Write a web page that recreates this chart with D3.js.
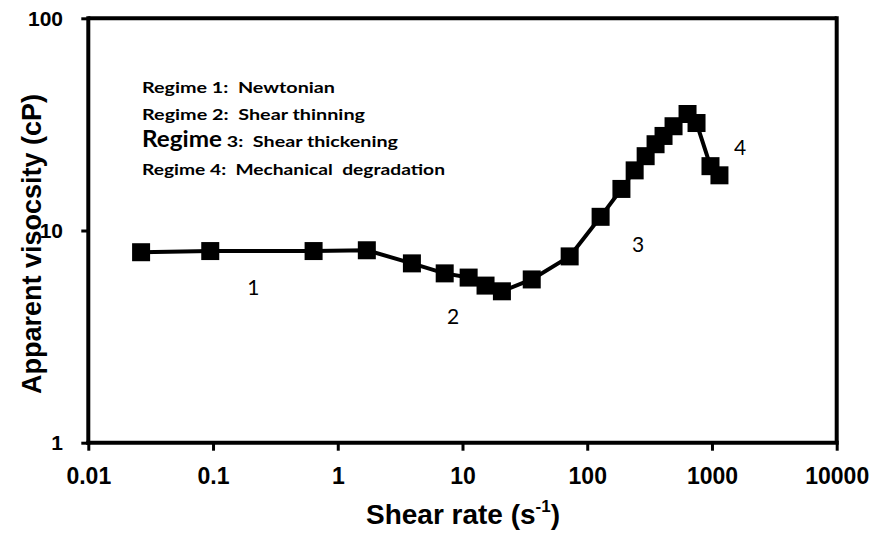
<!DOCTYPE html>
<html>
<head>
<meta charset="utf-8">
<script src="https://cdn.jsdelivr.net/npm/d3@7"></script>
<style>
  html, body { margin: 0; padding: 0; background: #fff; }
  svg { display: block; }
</style>
</head>
<body>
<svg id="chart" width="878" height="533"></svg>
<script>
// ---- data ----
const shearRate = [0.0265, 0.095, 0.64, 1.71, 3.93, 7.2, 11.2, 15.3, 20.7, 35.9, 72.3, 128, 188, 240, 294, 353, 409, 492, 637, 752, 973, 1148];
const viscosity = [7.9, 8.0, 8.0, 8.07, 7.0, 6.28, 6.0, 5.5, 5.17, 5.88, 7.55, 11.6, 15.7, 19.2, 22.4, 25.5, 27.9, 31.0, 35.4, 32.1, 20.1, 18.2];
const xTicks = [0.01, 0.1, 1, 10, 100, 1000, 10000];
const xTickLabels = ["0.01", "0.1", "1", "10", "100", "1000", "10000"];
const yTicks = [1, 10, 100];
const yTickLabels = ["1", "10", "100"];
const regimeLines = [
  ["Regime 1:  Newtonian"],
  ["Regime 2:  Shear thinning"],
  ["Regime", " 3:  Shear thickening"],
  ["Regime 4:  Mechanical  degradation"]
];
const regimeNumbers = ["1", "2", "3", "4"];
const regimeNumberPos = [[0.21, 5.42], [8.4, 3.95], [256, 8.55], [1683, 24.7]];
const xTitle = "Shear rate (s";
const yTitle = "Apparent visocsity (cP)";

// ---- layout ----
const svg = d3.select("#chart");
const x = d3.scaleLog().domain([0.01, 10000]).range([88.3, 836.7]);
const y = d3.scaleLog().domain([1, 100]).range([442.7, 18.3]);
const AX = "'Liberation Sans', Arial, sans-serif";
const CAL = "Lato, 'Open Sans', sans-serif";

// frame top & right
svg.append("line")
  .attr("x1", x(0.01)).attr("x2", x(10000)).attr("y1", y(100)).attr("y2", y(100))
  .attr("stroke", "#000").attr("stroke-width", 4);
svg.append("line")
  .attr("x1", x(10000)).attr("x2", x(10000)).attr("y1", y(100) - 2).attr("y2", y(1))
  .attr("stroke", "#000").attr("stroke-width", 4);

// x axis
const gx = svg.append("g").attr("transform", `translate(0,${y(1)})`)
  .call(d3.axisBottom(x).tickValues(xTicks).tickSizeInner(8).tickSizeOuter(0)
    .tickFormat((d, i) => xTickLabels[i]));
gx.select(".domain").attr("stroke-width", 4).attr("d", `M${x(0.01) - 2},0H${x(10000) + 2}`);
gx.selectAll(".tick line").attr("stroke-width", 3);
gx.selectAll(".tick text").attr("y", 41.3).attr("dy", 0)
  .attr("font-family", AX).attr("font-weight", "bold").attr("font-size", 23).attr("fill", "#000");

// y axis
const gy = svg.append("g").attr("transform", `translate(${x(0.01)},0)`)
  .call(d3.axisLeft(y).tickValues(yTicks).tickSizeInner(7).tickSizeOuter(0)
    .tickFormat((d, i) => yTickLabels[i]));
gy.select(".domain").attr("stroke-width", 4).attr("d", `M0,${y(100) - 2}V${y(1) + 2}`);
gy.selectAll(".tick line").attr("stroke-width", 3);
gy.selectAll(".tick text").attr("x", -25.3).attr("dy", "0.34em")
  .attr("font-family", AX).attr("font-weight", "bold").attr("font-size", 21).attr("fill", "#000");

// axis titles
const xt = svg.append("text").attr("x", 463).attr("y", 524).attr("text-anchor", "middle")
  .attr("font-family", AX).attr("font-weight", "bold").attr("font-size", 28).attr("fill", "#000");
xt.append("tspan").text(xTitle);
xt.append("tspan").attr("font-size", 17).attr("dy", -12).text("-1");
xt.append("tspan").attr("dy", 12).text(")");

svg.append("text").attr("transform", "translate(41,244) rotate(-90)").attr("text-anchor", "middle")
  .attr("font-family", AX).attr("font-weight", "bold").attr("font-size", 27).attr("fill", "#000")
  .text(yTitle);

// series line and markers
const pts = shearRate.map((d, i) => [d, viscosity[i]]);
svg.append("path").datum(pts)
  .attr("fill", "none").attr("stroke", "#000").attr("stroke-width", 4).attr("stroke-linejoin", "round")
  .attr("d", d3.line().x(d => x(d[0])).y(d => y(d[1])));
const ms = 18;
svg.append("g").selectAll("rect").data(pts).join("rect")
  .attr("x", d => x(d[0]) - ms / 2).attr("y", d => y(d[1]) - ms / 2)
  .attr("width", ms).attr("height", ms).attr("fill", "#000");

// regime description text
const baselines = [93, 120, 147, 175];
const lineWidths = [193, 223, null, 303];
regimeLines.forEach((parts, i) => {
  const t = svg.append("text").attr("x", 142).attr("y", baselines[i])
    .attr("font-family", CAL).attr("font-weight", "bold").attr("fill", "#000")
    .attr("xml:space", "preserve").style("white-space", "pre");
  if (parts.length === 1) {
    t.attr("font-size", 16).attr("textLength", lineWidths[i]).attr("lengthAdjust", "spacingAndGlyphs").text(parts[0]);
  } else {
    t.append("tspan").attr("font-size", 22).attr("textLength", 80).attr("lengthAdjust", "spacingAndGlyphs").text(parts[0]);
    t.append("tspan").attr("font-size", 16).attr("textLength", 176).attr("lengthAdjust", "spacingAndGlyphs").text(parts[1]);
  }
});

// regime numbers
svg.append("g").selectAll("text").data(regimeNumbers).join("text")
  .attr("x", (d, i) => x(regimeNumberPos[i][0])).attr("y", (d, i) => y(regimeNumberPos[i][1]))
  .attr("text-anchor", "middle").attr("dy", "0.36em")
  .attr("font-family", CAL).attr("font-size", 21).attr("fill", "#000")
  .text(d => d);
</script>
</body>
</html>
